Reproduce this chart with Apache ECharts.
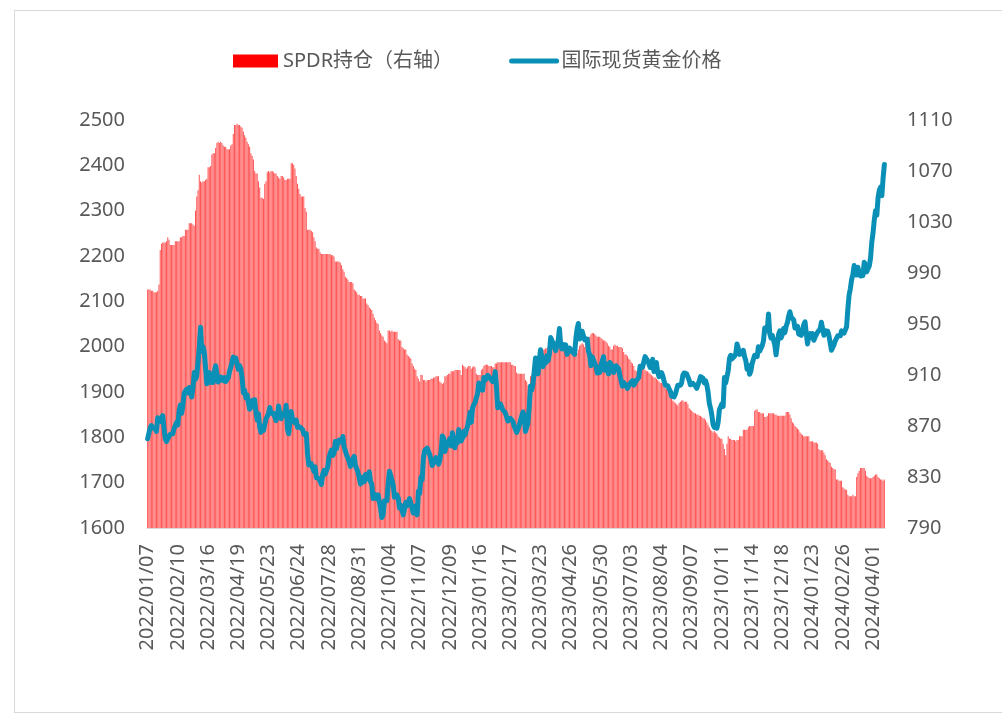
<!DOCTYPE html>
<html>
<head>
<meta charset="utf-8">
<script src="https://cdn.jsdelivr.net/npm/echarts@6/dist/echarts.min.js"></script>
<style>
  html, body { margin: 0; padding: 0; background: #fff; }
  #frame { position: absolute; left: 14px; top: 10px; width: 1000px; height: 701px; border: 1px solid #d9d9d9; border-right: none; }
  #chart { position: absolute; left: 0; top: 0; width: 1002px; height: 714px; }
</style>
</head>
<body>
<div id="frame"></div>
<div id="chart"></div>
<script>
// 日期：交易日（工作日，去掉几个休市日）
var firstDay = '2022/01/07';
var lastDay = '2024/04/12';
var skipDays = ['2022/12/26', '2023/01/02', '2023/12/25', '2024/01/01', '2024/03/29'];

// 国际现货黄金价格（左轴）
var gold2022 = [
  1797, 1801, 1821, 1826, 1821, 1818, 1819, 1813, 1843, 1839, 1835, 1843, 1848, 1820, 1797, 1791, 1797,
  1801, 1807, 1805, 1808, 1820, 1826, 1833, 1827, 1859, 1871, 1853, 1870, 1898, 1898, 1906, 1898, 1910, 1903, 1889, 1909,
  1943, 1928, 1935, 1966, 1998, 2043, 1990, 2000, 1988, 1953, 1918, 1927, 1943, 1921, 1936, 1921, 1944, 1958, 1958, 1922, 1919, 1933, 1937,
  1925, 1932, 1923, 1925, 1931, 1945, 1954, 1966, 1977, 1970, 1975, 1979, 1950, 1958, 1951, 1932, 1898, 1904, 1887, 1894, 1896,
  1862, 1867, 1881, 1877, 1883, 1854, 1838, 1852, 1822, 1811, 1824, 1815, 1816, 1841, 1846, 1853, 1866, 1853, 1850, 1853, 1855, 1837,
  1847, 1869, 1850, 1841, 1852, 1853, 1848, 1871, 1819, 1808, 1834, 1857, 1840, 1838, 1832, 1838, 1822, 1826, 1823, 1820, 1817, 1807,
  1811, 1808, 1764, 1739, 1740, 1742, 1733, 1725, 1735, 1711, 1708, 1709, 1711, 1696, 1718, 1727, 1719, 1717, 1734, 1756, 1765,
  1772, 1760, 1765, 1791, 1775, 1789, 1794, 1792, 1789, 1802, 1779, 1775, 1761, 1758, 1747, 1736, 1748, 1751, 1758, 1738, 1737, 1723, 1711,
  1697, 1712, 1710, 1702, 1718, 1708, 1716, 1724, 1702, 1697, 1665, 1675, 1676, 1664, 1673, 1671, 1643, 1623, 1629, 1660, 1660, 1660,
  1698, 1725, 1716, 1712, 1695, 1668, 1666, 1673, 1666, 1644, 1650, 1652, 1629, 1627, 1657, 1649, 1652, 1665, 1663, 1644, 1633,
  1648, 1635, 1629, 1681, 1676, 1712, 1706, 1755, 1771, 1772, 1776, 1774, 1762, 1751, 1738, 1740, 1750, 1755, 1755, 1741, 1749, 1768,
  1803, 1798, 1769, 1771, 1786, 1789, 1797, 1781, 1810, 1807, 1777, 1793, 1788, 1817, 1814, 1792, 1798, 1813, 1805, 1815, 1824
];
var gold2023 = [
  1839, 1855, 1833, 1865, 1872, 1877, 1876, 1897, 1920, 1917, 1909, 1904, 1932, 1926, 1931, 1937, 1940, 1930, 1928, 1923, 1928,
  1945, 1912, 1865, 1867, 1874, 1874, 1861, 1865, 1854, 1854, 1836, 1836, 1842, 1841, 1835, 1825, 1822, 1811, 1817, 1826,
  1836, 1836, 1856, 1847, 1813, 1814, 1831, 1868, 1913, 1904, 1918, 1919, 1975, 1979, 1940, 1970, 1993, 1978, 1956, 1973, 1964, 1980, 1969,
  1984, 2020, 2021, 2007, 2007, 1991, 2003, 2014, 2040, 2004, 1995, 2005, 1995, 2004, 1983, 1989, 1997, 1998, 1989, 1990,
  1983, 2017, 2039, 2051, 2017, 2022, 2034, 2031, 2015, 2011, 2017, 1990, 1982, 1958, 1978, 1971, 1975, 1957, 1942, 1946, 1943, 1959, 1963,
  1978, 1948, 1962, 1963, 1940, 1965, 1961, 1957, 1943, 1942, 1958, 1958, 1951, 1936, 1932, 1913, 1921, 1923, 1914, 1908, 1908, 1919,
  1921, 1925, 1915, 1911, 1925, 1925, 1932, 1957, 1961, 1955, 1955, 1978, 1977, 1969, 1962, 1954, 1965, 1972, 1945, 1959, 1965,
  1944, 1934, 1933, 1943, 1936, 1925, 1915, 1912, 1914, 1907, 1902, 1891, 1889, 1889, 1895, 1898, 1915, 1917, 1915, 1920, 1937, 1942, 1940,
  1940, 1939, 1926, 1916, 1919, 1919, 1922, 1913, 1908, 1910, 1924, 1934, 1931, 1930, 1920, 1925, 1916, 1900, 1875, 1864, 1849,
  1828, 1822, 1821, 1820, 1833, 1861, 1861, 1874, 1868, 1932, 1920, 1923, 1947, 1974, 1981, 1973, 1970, 1979, 1985, 2006, 1996, 1983,
  1982, 1985, 1992, 1978, 1969, 1950, 1958, 1939, 1946, 1963, 1959, 1981, 1980, 1978, 2000, 1990, 1992, 2002, 2013, 2041, 2044, 2036,
  2072, 2029, 2019, 2025, 2028, 2004, 1982, 1980, 2027, 2035, 2019, 2027, 2040, 2031, 2045, 2053, 2067, 2077, 2065, 2063
];
var gold2024 = [
  2059, 2041, 2043, 2045, 2028, 2029, 2025, 2028, 2049, 2055, 2029, 2006, 2023, 2029, 2021, 2029, 2014, 2021, 2018, 2032, 2036, 2039,
  2054, 2039, 2025, 2035, 2035, 2034, 2024, 2020, 1992, 1992, 2004, 2013, 2017, 2024, 2025, 2024, 2035, 2031, 2030, 2034, 2044,
  2083, 2114, 2128, 2148, 2159, 2179, 2182, 2158, 2175, 2162, 2156, 2160, 2157, 2186, 2181, 2165, 2172, 2178, 2195, 2230,
  2251, 2280, 2300, 2290, 2329, 2345, 2352, 2333, 2372, 2402
];

// SPDR持仓（右轴，吨）
var spdr2022 = [
  977, 977, 977, 976, 976, 975, 975, 975, 976, 981, 1008, 1013, 1014, 1014, 1014, 1015, 1018,
  1016, 1012, 1012, 1012, 1012, 1015, 1015, 1015, 1015, 1018, 1018, 1019, 1019, 1024, 1024, 1024, 1029, 1029, 1029, 1028,
  1027, 1039, 1050, 1055, 1067, 1062, 1061, 1062, 1062, 1063, 1064, 1073, 1073, 1074, 1083, 1084, 1084, 1088, 1092, 1093, 1092, 1093, 1092,
  1090, 1089, 1089, 1087, 1087, 1087, 1090, 1091, 1099, 1106, 1106, 1107, 1106, 1106, 1105, 1104, 1101, 1098, 1096, 1093, 1091,
  1089, 1084, 1082, 1079, 1070, 1068, 1068, 1062, 1057, 1049, 1049, 1048, 1060, 1062, 1069, 1070, 1069, 1070, 1070, 1069, 1068, 1068,
  1066, 1065, 1064, 1066, 1066, 1065, 1063, 1063, 1064, 1064, 1064, 1076, 1076, 1075, 1072, 1066, 1060, 1056, 1052, 1050, 1050, 1050,
  1041, 1038, 1024, 1024, 1024, 1023, 1022, 1018, 1015, 1010, 1009, 1009, 1006, 1005, 1005, 1005, 1005, 1005, 1005, 1005, 1005,
  1004, 1004, 1003, 999, 999, 999, 999, 998, 996, 993, 991, 987, 986, 985, 983, 983, 983, 982, 977, 976, 975, 973, 973,
  972, 972, 970, 970, 970, 966, 965, 963, 962, 961, 958, 955, 953, 951, 950, 945, 943, 941, 940, 937, 936, 935,
  945, 945, 944, 945, 944, 944, 944, 944, 938, 937, 937, 932, 931, 930, 930, 926, 925, 924, 923, 919, 917,
  915, 914, 909, 907, 905, 910, 910, 906, 906, 905, 906, 906, 906, 907, 907, 908, 908, 909, 909, 909, 905, 904,
  903, 904, 909, 909, 910, 911, 911, 913, 913, 913, 914, 914, 914, 914, 914, 910, 918, 917, 916, 915, 916
];
var spdr2023 = [
  917, 917, 915, 916, 917, 916, 911, 910, 910, 910, 914, 915, 917, 918, 918, 918, 917, 917, 917, 916, 916,
  919, 919, 920, 920, 920, 920, 920, 920, 920, 920, 920, 920, 920, 918, 918, 917, 917, 912, 911, 911,
  911, 911, 911, 911, 906, 905, 902, 901, 909, 910, 911, 919, 921, 923, 924, 924, 927, 929, 930, 930, 931, 931, 932,
  932, 932, 933, 933, 933, 934, 934, 935, 935, 935, 935, 934, 934, 933, 933, 930, 930, 929, 929, 928,
  928, 928, 927, 930, 933, 934, 935, 934, 932, 935, 937, 938, 940, 942, 943, 943, 942, 941, 940, 940, 940, 939, 938,
  937, 937, 936, 935, 933, 932, 930, 930, 933, 934, 933, 933, 932, 932, 932, 931, 928, 926, 926, 925, 923, 922,
  920, 919, 917, 914, 913, 912, 912, 914, 915, 916, 917, 914, 913, 913, 912, 911, 910, 909, 908, 908, 907,
  906, 905, 904, 904, 903, 901, 900, 899, 899, 898, 897, 893, 890, 889, 888, 887, 886, 888, 889, 890, 890, 889, 889,
  889, 887, 884, 883, 882, 881, 880, 880, 879, 879, 878, 878, 877, 876, 876, 875, 873, 871, 869, 867, 866,
  865, 866, 865, 864, 862, 861, 860, 860, 856, 852, 847, 856, 862, 860, 860, 859, 859, 859, 858, 859, 859, 862,
  862, 862, 867, 867, 867, 867, 869, 870, 870, 870, 870, 882, 883, 883, 881, 881, 880, 880, 880, 877, 877, 878,
  880, 880, 880, 880, 880, 879, 879, 878, 878, 878, 878, 878, 878, 878, 881, 881, 881, 879, 876, 873
];
var spdr2024 = [
  872, 870, 869, 868, 867, 865, 864, 863, 862, 862, 862, 862, 862, 858, 858, 858, 857, 857, 857, 856, 852, 851,
  851, 851, 849, 847, 844, 843, 842, 841, 838, 837, 836, 836, 828, 828, 827, 827, 827, 822, 821, 820, 820,
  816, 815, 815, 815, 816, 815, 815, 830, 833, 835, 837, 837, 837, 837, 835, 831, 830, 829, 829, 829,
  830, 831, 832, 832, 830, 829, 828, 828, 827, 828
];

var rightTicks = [790, 830, 870, 910, 950, 990, 1030, 1070, 1110];

function pad(n) { return n < 10 ? '0' + n : '' + n; }
function fmt(d) {
  return d.getUTCFullYear() + '/' + pad(d.getUTCMonth() + 1) + '/' + pad(d.getUTCDate());
}
function buildDates() {
  var out = [];
  var p = firstDay.split('/');
  var d = new Date(Date.UTC(+p[0], +p[1] - 1, +p[2]));
  while (true) {
    var s = fmt(d);
    var wd = d.getUTCDay();
    if (wd !== 0 && wd !== 6 && skipDays.indexOf(s) < 0) out.push(s);
    if (s === lastDay) break;
    d = new Date(d.getTime() + 86400000);
  }
  return out;
}

var dates = buildDates();
var goldPrice = gold2022.concat(gold2023, gold2024);
var spdrHold = spdr2022.concat(spdr2023, spdr2024);

var labelColor = '#595959';
var fontFamily = "'Noto Sans', 'Noto Sans CJK SC', sans-serif";
var lineColor = '#0a90b6';
function plain(v) { return String(v); }

var myChart = echarts.init(document.getElementById('chart'));
myChart.setOption({
  animation: false,
  textStyle: { fontFamily: fontFamily },
  legend: {
    left: 228,
    top: 46,
    itemGap: 56,
    itemWidth: 45,
    itemHeight: 13,
    textStyle: { fontSize: 20, color: labelColor, fontFamily: fontFamily },
    data: [
      { name: 'SPDR持仓（右轴）', icon: 'rect', itemStyle: { color: '#ff0000', opacity: 1 } },
      { name: '国际现货黄金价格', itemStyle: { opacity: 0 }, lineStyle: { width: 5, color: lineColor } }
    ]
  },
  grid: { left: 147, right: 117, top: 120, bottom: 186 },
  xAxis: {
    type: 'category',
    data: dates,
    axisLine: { lineStyle: { color: '#d9d9d9', width: 1 } },
    axisTick: { show: false },
    axisLabel: {
      interval: 23,
      rotate: 90,
      fontSize: 20,
      color: labelColor,
      margin: 16
    }
  },
  yAxis: [
    {
      type: 'value',
      min: 1600,
      max: 2500,
      interval: 100,
      splitLine: { show: false },
      axisLine: { show: false },
      axisTick: { show: false },
      axisLabel: { fontSize: 20, color: labelColor, margin: 22, formatter: plain }
    },
    {
      type: 'value',
      min: 790,
      max: 1110,
      splitLine: { show: false },
      axisLine: { show: false },
      axisTick: { show: false },
      axisLabel: { fontSize: 20, color: labelColor, margin: 22, customValues: rightTicks, formatter: plain }
    }
  ],
  series: [
    {
      name: 'SPDR持仓（右轴）',
      type: 'bar',
      yAxisIndex: 1,
      data: spdrHold,
      barCategoryGap: '45%',
      itemStyle: { color: 'rgba(255,0,0,0.68)' }
    },
    {
      name: '国际现货黄金价格',
      type: 'line',
      yAxisIndex: 0,
      data: goldPrice,
      symbol: 'none',
      lineStyle: { color: lineColor, width: 5, cap: 'round', join: 'round' },
      itemStyle: { color: lineColor }
    }
  ]
});
</script>
</body>
</html>
